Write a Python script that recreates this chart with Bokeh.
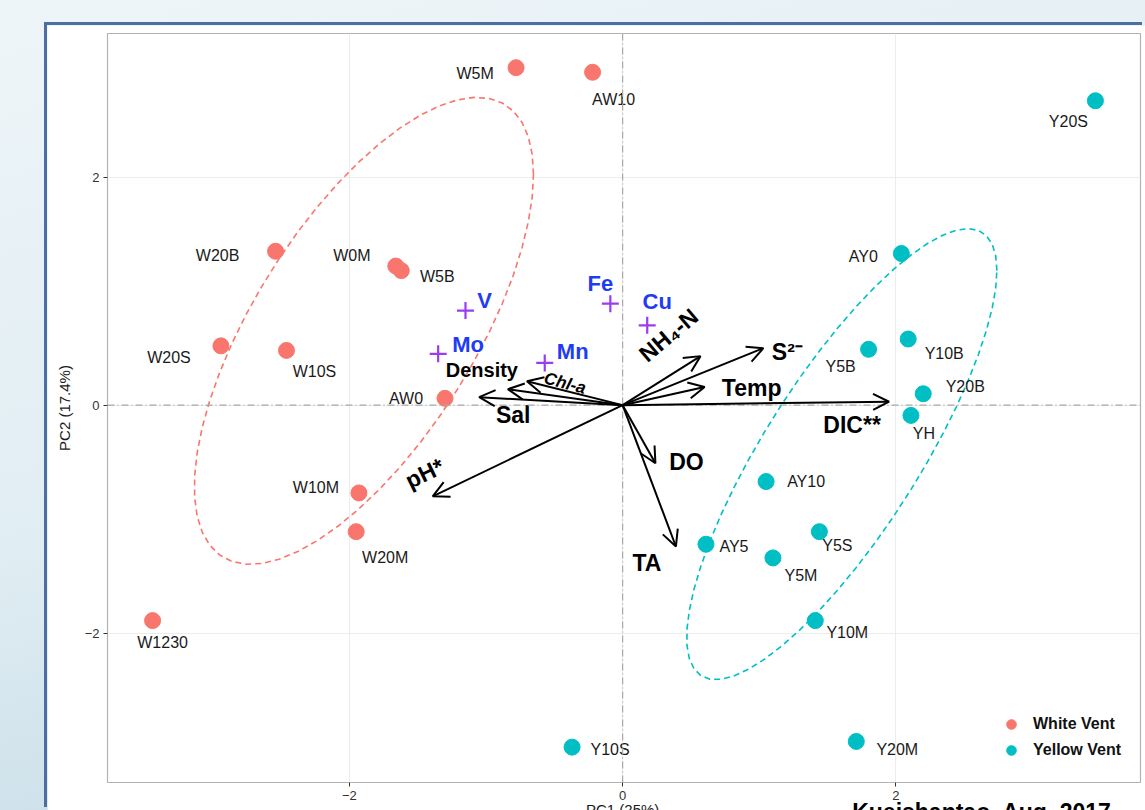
import numpy as np
from bokeh.plotting import figure
from bokeh.models import (ColumnDataSource, Arrow, OpenHead, Span, FixedTicker,
                          Legend, LegendItem, Range1d)
from bokeh.layouts import column
from bokeh.core.properties import value
from bokeh.embed import file_html
from bokeh.resources import INLINE

# ---- sample scores (PC1, PC2) ----
white_names = ["W5M", "AW10", "W20B", "W0M", "W5B", "W20S", "W10S", "AW0", "W10M", "W20M", "W1230"]
white_pc1 = [-0.78, -0.22, -2.54, -1.66, -1.62, -2.94, -2.46, -1.30, -1.93, -1.95, -3.44]
white_pc2 = [2.96, 2.92, 1.35, 1.22, 1.18, 0.52, 0.48, 0.06, -0.77, -1.11, -1.89]

yellow_names = ["Y20S", "AY0", "Y10B", "Y5B", "Y20B", "YH", "AY10", "Y5S", "AY5", "Y5M", "Y10M", "Y10S", "Y20M"]
yellow_pc1 = [3.46, 2.04, 2.09, 1.80, 2.20, 2.11, 1.05, 1.44, 0.61, 1.10, 1.41, -0.37, 1.71]
yellow_pc2 = [2.67, 1.33, 0.58, 0.49, 0.10, -0.09, -0.67, -1.11, -1.22, -1.34, -1.89, -3.00, -2.95]

# ---- environmental loadings ----
var_names = ["Sal", "Density", "Chl-a", "pH*", "NH\u2084-N", "S\u00b2\u207b", "Temp", "DIC**", "DO", "TA"]
var_pc1 = [-1.05, -0.84, -0.70, -1.39, 0.57, 1.03, 0.60, 1.95, 0.24, 0.39]
var_pc2 = [0.07, 0.14, 0.21, -0.80, 0.43, 0.50, 0.16, 0.03, -0.51, -1.24]

# ---- supplementary metals ----
metal_names = ["V", "Mo", "Mn", "Fe", "Cu"]
metal_pc1 = [-1.15, -1.35, -0.57, -0.09, 0.18]
metal_pc2 = [0.83, 0.45, 0.37, 0.89, 0.70]

group_names = ["White Vent", "Yellow Vent"]
x_title = "PC1 (25%)"
y_title = "PC2 (17.4%)"
caption = "Kuejshantao, Aug. 2017"

# label placement (pixel offsets from each mark, +y downward)
white_dx = [-41, 21, -58, -44, 36, -52, 28, -39, -43, 29, 10]
white_dy = [6, 27, 4, -11, 6, 12, 21, 0, -5, 26, 22]
yellow_dx = [-27, -38, 36, -28, 42, 13, 40, 18, 28, 28, 32, 38, 41]
yellow_dy = [21, 3, 14, 17, -7, 18, 0, 14, 2, 18, 12, 2, 8]
var_dx = [34, -26, 38, -8, -32, 24, 47, -37, 31, -29]
var_dy = [18, -19, 2, -23, -21, 4, 1, 23, -1, 16]
var_angle = [0, 0, -0.26, 0.45, 0.70, 0, 0, 0, 0, 0]
metal_dx = [19, 30, 28, -10, 10]
metal_dy = [-10, -9, -11, -20, -24]

RED = "#F8766D"
CYAN = "#00BFC4"
FONT_NAME = "Liberation Sans"
FONT = value(FONT_NAME)
X_LIM = (-3.77, 3.79)
Y_LIM = (-3.31, 3.26)


def cov_trob(x, nu=5, maxit=25, tol=0.01):
    """Multivariate-t robust location/scatter (as MASS::cov.trob)."""
    n, p = x.shape
    wt = np.ones(n)
    loc = (wt[:, None] * x).sum(0) / wt.sum()
    w = np.sqrt(wt)
    X = x - loc
    for _ in range(maxit):
        w0 = w
        X = x - loc
        _, d, vt = np.linalg.svd(np.sqrt(w / w.sum())[:, None] * X, full_matrices=False)
        wX = X @ vt.T @ np.diag(1.0 / d)
        Q = (wX ** 2).sum(1)
        w = (wt * (nu + p)) / (nu + Q)
        loc = (w[:, None] * x).sum(0) / w.sum()
        if np.all(np.abs(w - w0) < tol):
            break
    sw = np.sqrt(w)[:, None] * X
    cov = sw.T @ sw / wt.sum()
    return loc, cov


def t_ellipse(xs, ys, level=0.65, segments=51):
    pts = np.column_stack([xs, ys])
    center, shape = cov_trob(pts)
    dfd = len(xs) - 1
    fq = dfd / 2.0 * ((1 - level) ** (-2.0 / dfd) - 1)   # qf(level, 2, dfd)
    radius = np.sqrt(2 * fq)
    chol_upper = np.linalg.cholesky(shape).T
    ang = np.arange(segments + 1) * 2 * np.pi / segments
    circle = np.column_stack([np.cos(ang), np.sin(ang)])
    ell = center + radius * (circle @ chol_upper)
    return ell[:, 0], ell[:, 1]


p = figure(width=1098, height=785, x_range=Range1d(*X_LIM), y_range=Range1d(*Y_LIM),
           output_backend="svg", toolbar_location=None,
           min_border_left=60, min_border_right=5, min_border_top=8, min_border_bottom=28)
p.background_fill_color = "white"
p.border_fill_color = "white"
p.outline_line_color = "#b3b3b3"
p.outline_line_width = 1.2

for ax in (p.xaxis, p.yaxis):
    ax.ticker = FixedTicker(ticks=[-2, 0, 2])
    ax.axis_line_color = None
    ax.major_tick_in = 0
    ax.major_tick_out = 4
    ax.major_tick_line_color = "#333333"
    ax.minor_tick_line_color = None
    ax.major_label_text_font = FONT_NAME
    ax.major_label_text_font_size = "13px"
    ax.major_label_text_color = "#333333"
    ax.major_label_standoff = 4
p.yaxis.axis_label = y_title
p.yaxis.axis_label_text_font = FONT_NAME
p.yaxis.axis_label_text_font_style = "normal"
p.yaxis.axis_label_text_font_size = "15px"
p.yaxis.axis_label_text_color = "#1a1a1a"
p.yaxis.axis_label_standoff = 9

for g in (p.xgrid, p.ygrid):
    g.ticker = FixedTicker(ticks=[-2, 0, 2])
    g.grid_line_color = "#ececec"
    g.grid_line_width = 1

# zero reference lines
p.add_layout(Span(location=0, dimension="height", line_color="#a8a8a8", line_width=1.2, line_dash="7 3 1 3"))
p.add_layout(Span(location=0, dimension="width", line_color="#a8a8a8", line_width=1.2, line_dash="7 3 1 3"))

# group ellipses
wx, wy = t_ellipse(np.array(white_pc1), np.array(white_pc2))
yx, yy = t_ellipse(np.array(yellow_pc1), np.array(yellow_pc2))
p.line(wx, wy, line_color=RED, line_width=1.6, line_dash="6 4")
p.line(yx, yy, line_color=CYAN, line_width=1.6, line_dash="6 4")

# loading arrows
arr_src = ColumnDataSource(dict(x0=[0] * len(var_pc1), y0=[0] * len(var_pc1), x1=var_pc1, y1=var_pc2))
p.add_layout(Arrow(end=OpenHead(size=16, line_width=2, line_color="black"),
                   x_start="x0", y_start="y0", x_end="x1", y_end="y1",
                   line_width=2, line_color="black", source=arr_src))

# samples
w_src = ColumnDataSource(dict(x=white_pc1, y=white_pc2, name=white_names, dx=white_dx, dy=white_dy))
y_src = ColumnDataSource(dict(x=yellow_pc1, y=yellow_pc2, name=yellow_names, dx=yellow_dx, dy=yellow_dy))
rw = p.scatter("x", "y", source=w_src, size=16, fill_color=RED, line_color=RED)
ry = p.scatter("x", "y", source=y_src, size=16, fill_color=CYAN, line_color=CYAN)
for src in (w_src, y_src):
    p.text("x", "y", text="name", source=src, x_offset="dx", y_offset="dy",
           text_font=FONT, text_font_size="16px", text_color="#1a1a1a",
           text_align="center", text_baseline="middle")

# variable labels
v_src = ColumnDataSource(dict(x=var_pc1, y=var_pc2, name=var_names, dx=var_dx, dy=var_dy,
                              ang=var_angle,
                              style=["bold", "bold", "bold italic", "bold", "bold", "bold",
                                     "bold", "bold", "bold", "bold"],
                              size=["23px", "20px", "17px", "23px", "23px", "23px",
                                    "23px", "23px", "23px", "23px"]))
p.text("x", "y", text="name", source=v_src, x_offset="dx", y_offset="dy", angle="ang",
       text_font=FONT, text_font_style="style", text_font_size="size", text_color="black",
       text_align="center", text_baseline="middle")

# supplementary metals
m_src = ColumnDataSource(dict(x=metal_pc1, y=metal_pc2, name=metal_names, dx=metal_dx, dy=metal_dy))
p.scatter("x", "y", source=m_src, marker="cross", size=17, line_width=2.2, line_color="#9b3cf2")
p.text("x", "y", text="name", source=m_src, x_offset="dx", y_offset="dy",
       text_font=FONT, text_font_style="bold", text_font_size="22px", text_color="#1f3cf5",
       text_align="center", text_baseline="middle")

# legend
legend = Legend(items=[LegendItem(label=group_names[0], renderers=[rw]),
                       LegendItem(label=group_names[1], renderers=[ry])],
                location=(887, 16), orientation="vertical")
legend.label_text_font = FONT_NAME
legend.label_text_font_style = "bold"
legend.label_text_font_size = "16px"
legend.label_text_color = "#111111"
legend.glyph_width = 26
legend.glyph_height = 24
legend.label_standoff = 9
legend.spacing = 2
legend.padding = 4
legend.margin = 0
legend.border_line_alpha = 0
legend.background_fill_alpha = 0
p.add_layout(legend)

p.margin = (25, 0, 0, 47)
p.styles = {"box-shadow": "-3px -3px 0 0 #4b6fa3"}

# transparent strip overlapping the bottom edge: x-axis title and slide caption
# (its frame lines up with the main frame, so it shares the PC1 scale)
cap = figure(width=1098, height=40, x_range=Range1d(*X_LIM), y_range=Range1d(0, 40),
             output_backend="svg", toolbar_location=None, x_axis_type=None, y_axis_type=None,
             min_border=0)
cap.grid.visible = False
cap.outline_line_color = None
cap.background_fill_alpha = 0
cap.border_fill_alpha = 0
cap.text(x=[0], y=[22], text=[x_title], text_font=FONT, text_font_size="15px",
         text_color="#1a1a1a", text_align="center", text_baseline="top")
cap.text(x=[1.68], y=[24], text=[caption], text_font=FONT, text_font_style="bold",
         text_font_size="23px", text_color="black", text_align="left", text_baseline="top")
cap.margin = (-28, 0, 0, 47)

root = column(p, cap, width=1145, height=810,
              styles={"background": "linear-gradient(165deg, #eef5f8 0%, #e0edf3 50%, #bcd4e1 100%)",
                      "overflow": "hidden"})

open("out.html", "w").write(file_html(root, INLINE))
